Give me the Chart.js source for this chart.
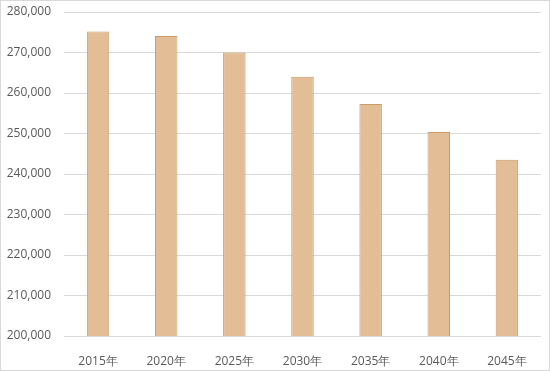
<!DOCTYPE html>
<html>
<head>
<meta charset="utf-8">
<script src="https://cdn.jsdelivr.net/npm/chart.js@4"></script>
<style>
    html, body { margin: 0; padding: 0; background: #fff; }
    #wrap { width: 550px; height: 371px; position: relative; }
</style>
</head>
<body>
<div id="wrap"><canvas id="popChart"></canvas></div>
<script>
// Data chart
const years = ['2015年', '2020年', '2025年', '2030年', '2035年', '2040年', '2045年'];
const population = [275200, 274100, 270000, 264000, 257300, 250400, 243500];
const yMin = 200000;
const yMax = 280000;
const yStep = 10000;

// Bingkai luar tipis seperti chart Excel
const frame = {
    id: 'frame',
    afterDraw(c) {
        const ctx = c.ctx;
        ctx.save();
        ctx.strokeStyle = '#d9d9d9';
        ctx.lineWidth = 1;
        ctx.strokeRect(0.5, 0.5, c.width - 1, c.height - 1);
        ctx.restore();
    }
};

function initChart() {
    const ctx = document.getElementById('popChart').getContext('2d');
    new Chart(ctx, {
        type: 'bar',
        data: {
            labels: years,
            datasets: [{
                data: population,
                backgroundColor: '#E2BD95',
                borderColor: '#C99B68',
                borderWidth: 1,
                borderSkipped: false,
                barPercentage: 0.33,
                categoryPercentage: 1
            }]
        },
        options: {
            responsive: true,
            maintainAspectRatio: false,
            animation: false,
            layout: { padding: { top: 12, right: 9, bottom: 0, left: 0 } },
            plugins: {
                legend: { display: false },
                tooltip: { enabled: false }
            },
            scales: {
                x: {
                    grid: { display: false },
                    border: { display: false },
                    ticks: {
                        color: '#595959',
                        font: { family: 'Open Sans', size: 12 },
                        padding: 10,
                        maxRotation: 0
                    },
                    afterFit(scale) { scale.height = 35; }
                },
                y: {
                    min: yMin,
                    max: yMax,
                    grid: { color: '#d9d9d9', drawTicks: false },
                    border: { display: false },
                    ticks: {
                        stepSize: yStep,
                        color: '#595959',
                        font: { family: 'Open Sans', size: 12 },
                        padding: 13,
                        callback: v => v.toLocaleString('en-US')
                    },
                    afterFit(scale) {
                        scale.width = 64;
                        scale.paddingTop = 0;
                        scale.paddingBottom = 0;
                    }
                }
            }
        },
        plugins: [frame]
    });
}

document.addEventListener('DOMContentLoaded', initChart);
</script>
</body>
</html>
